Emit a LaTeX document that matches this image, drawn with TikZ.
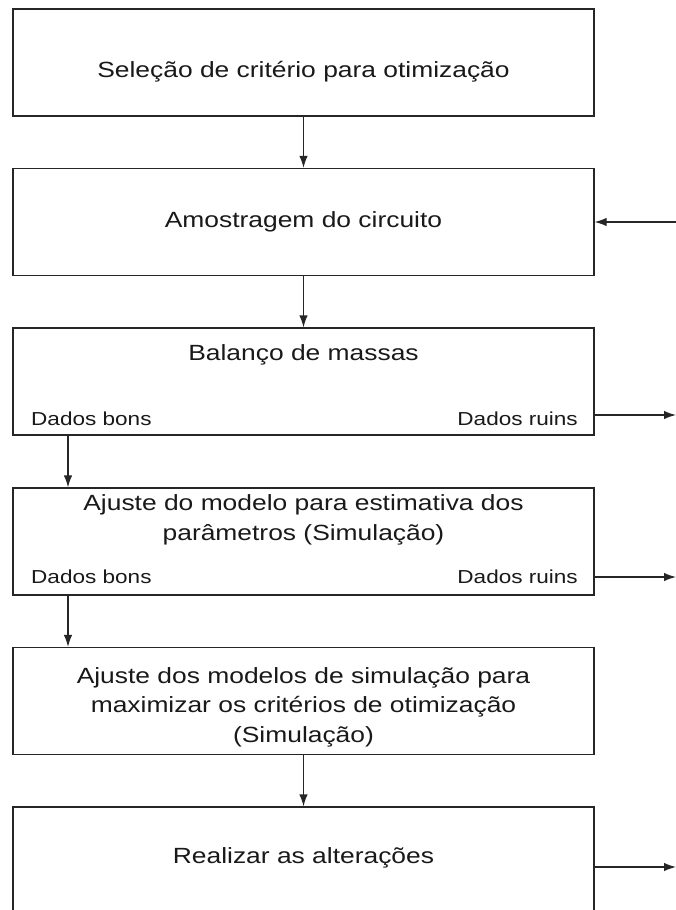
\documentclass[tikz,border=0pt]{standalone}
\usepackage{fontspec}
\setmainfont{Liberation Sans}[FakeStretch=1.2]
\usetikzlibrary{arrows.meta}
\begin{document}
\begin{tikzpicture}[x=1pt,y=-1pt,
  box/.style={draw=black!85, line width=1.3pt, minimum width=581pt, minimum height=107pt, inner sep=0pt},
  main/.style={font=\fontsize{22}{29.5}\selectfont, align=center, inner sep=0pt, anchor=base, text=black!90},
  small/.style={font=\fontsize{18.8}{22}\selectfont, inner sep=0pt, text=black!90},
  arr/.style={draw=black!85, line width=1.3pt, -{Latex[length=12pt,width=8.5pt]}}]
\useasboundingbox (0,0) rectangle (676,910);
\fill[white] (0,0) rectangle (676,910);
% boxes
\node[box] (b1) at (303.5,62.5) {};
\node[box] (b2) at (303.5,222) {};
\node[box] (b3) at (303.5,381.5) {};
\node[box] (b4) at (303.5,541.5) {};
\node[box] (b5) at (303.5,701) {};
\node[box, minimum height=120pt] (b6) at (303.5,867) {};
% texts (base anchor = baseline of the last line)
\node[main] (t1) at (303.5,77) {Seleção de critério para otimização};
\node[main] (t2) at (303.5,227) {Amostragem do circuito};
\node[main] (t3) at (303.5,360) {Balanço de massas};
\node[main] (t4) at (303.5,540) {Ajuste do modelo para estimativa dos\\parâmetros (Simulação)};
\node[main] (t5) at (303.5,742) {Ajuste dos modelos de simulação para\\maximizar os critérios de otimização\\(Simulação)};
\node[main] (t6) at (303.5,863) {Realizar as alterações};
\node[small, anchor=base west] (g3) at (31,425) {Dados bons};
\node[small, anchor=base east] (r3) at (578,425) {Dados ruins};
\node[small, anchor=base west] (g4) at (31,583) {Dados bons};
\node[small, anchor=base east] (r4) at (578,583) {Dados ruins};
% helper coordinates
\coordinate (lx) at (68,0);
\coordinate (rx) at (676,0);
\coordinate (y3) at (0,415);
\coordinate (y4) at (0,577);
% connectors
\draw[arr] (b1.south) -- (b2.north);
\draw[arr] (b2.south) -- (b3.north);
\draw[arr] (b3.south -| lx) -- (b4.north -| lx);
\draw[arr] (b4.south -| lx) -- (b5.north -| lx);
\draw[arr] (b5.south) -- (b6.north);
\draw[arr] (b2.east -| rx) -- (b2.east);
\draw[arr] (b3.east |- y3) -- (rx |- y3);
\draw[arr] (b4.east |- y4) -- (rx |- y4);
\draw[arr] (b6.east) -- (b6.east -| rx);
\end{tikzpicture}
\end{document}
